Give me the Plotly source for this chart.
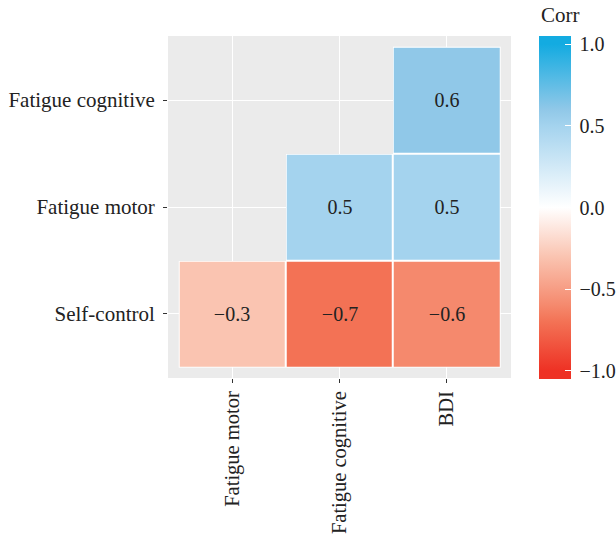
import plotly.graph_objects as go

x_labels = ["Fatigue motor", "Fatigue cognitive", "BDI"]
y_labels = ["Self-control", "Fatigue motor", "Fatigue cognitive"]
corr_self_control = [-0.3, -0.7, -0.6]
corr_fatigue_motor = [None, 0.5, 0.5]
corr_fatigue_cognitive = [None, None, 0.6]
cbar_ticks = [-1.0, -0.5, 0.0, 0.5, 1.0]

z = [corr_self_control, corr_fatigue_motor, corr_fatigue_cognitive]


def fmt(v):
    if v is None:
        return ""
    s = f"{abs(v):.1f}"
    return ("\u2212" + s) if v < 0 else s


text = [[fmt(v) for v in row] for row in z]
under = [[1 if v is not None else None for v in row] for row in z]

zmin, zmax = -1.05, 1.05
stops = [
    (-1.05, "#EE3124"),
    (-1.0, "#EE3124"),
    (-0.7, "#F37255"),
    (-0.6, "#F5896D"),
    (-0.3, "#FAC4B1"),
    (0.0, "#FFFFFF"),
    (0.5, "#A4D3EE"),
    (0.6, "#90C8E8"),
    (1.0, "#13ABE1"),
    (1.05, "#13ABE1"),
]
colorscale = [[(v - zmin) / (zmax - zmin), c] for v, c in stops]

FONT = "Liberation Serif"
FS = 20
TFS = 21
TXT = "#222222"

fig = go.Figure()
fig.add_trace(go.Heatmap(
    x=x_labels, y=y_labels, z=under,
    colorscale=[[0, "white"], [1, "white"]],
    showscale=False, hoverinfo="skip",
))
fig.add_trace(go.Heatmap(
    x=x_labels, y=y_labels, z=z,
    text=text, texttemplate="%{text}",
    textfont=dict(family=FONT, size=FS, color=TXT),
    colorscale=colorscale, zmin=zmin, zmax=zmax,
    xgap=2, ygap=2,
    colorbar=dict(
        tickvals=cbar_ticks,
        ticktext=["\u2009" + fmt(v) for v in cbar_ticks],
        ticks="inside", ticklen=6, tickcolor="white", tickwidth=1,
        tickfont=dict(family=FONT, size=20, color=TXT),
        thickness=32, thicknessmode="pixels",
        len=343, lenmode="pixels",
        x=1.0816, xanchor="left", xpad=0,
        y=0.4985, yanchor="middle", ypad=0,
        outlinewidth=0,
    ),
))

fig.add_annotation(
    text="Corr", xref="paper", yref="paper",
    x=1.0816, y=1.02, xanchor="left", yanchor="bottom",
    showarrow=False, font=dict(family=FONT, size=TFS, color=TXT),
)

fig.update_layout(
    width=616, height=537,
    margin=dict(l=168, r=105, t=36, b=159, autoexpand=False),
    paper_bgcolor="white",
    plot_bgcolor="#EBEBEB",
    font=dict(family=FONT, size=FS, color=TXT),
    showlegend=False,
)
fig.update_xaxes(
    type="category", categoryorder="array", categoryarray=x_labels,
    range=[-0.6, 2.6], showgrid=True, gridcolor="white", gridwidth=1.2,
    ticks="outside", ticklen=4, tickcolor="#333333", tickangle=-90,
    tickfont=dict(family=FONT, size=20.5, color=TXT),
    ticklabelstandoff=0,
    zeroline=False, showline=False, automargin=False,
)
fig.update_yaxes(
    type="category", categoryorder="array", categoryarray=y_labels,
    range=[-0.6, 2.6], showgrid=True, gridcolor="white", gridwidth=1.2,
    ticks="outside", ticklen=4, tickcolor="#333333",
    tickfont=dict(family=FONT, size=TFS, color=TXT),
    ticklabelstandoff=4,
    zeroline=False, showline=False, automargin=False,
)

fig.write_html(
    "out.html",
    config={"displayModeBar": False},
    post_script="document.body.style.margin='0';document.body.style.overflow='hidden';",
)
